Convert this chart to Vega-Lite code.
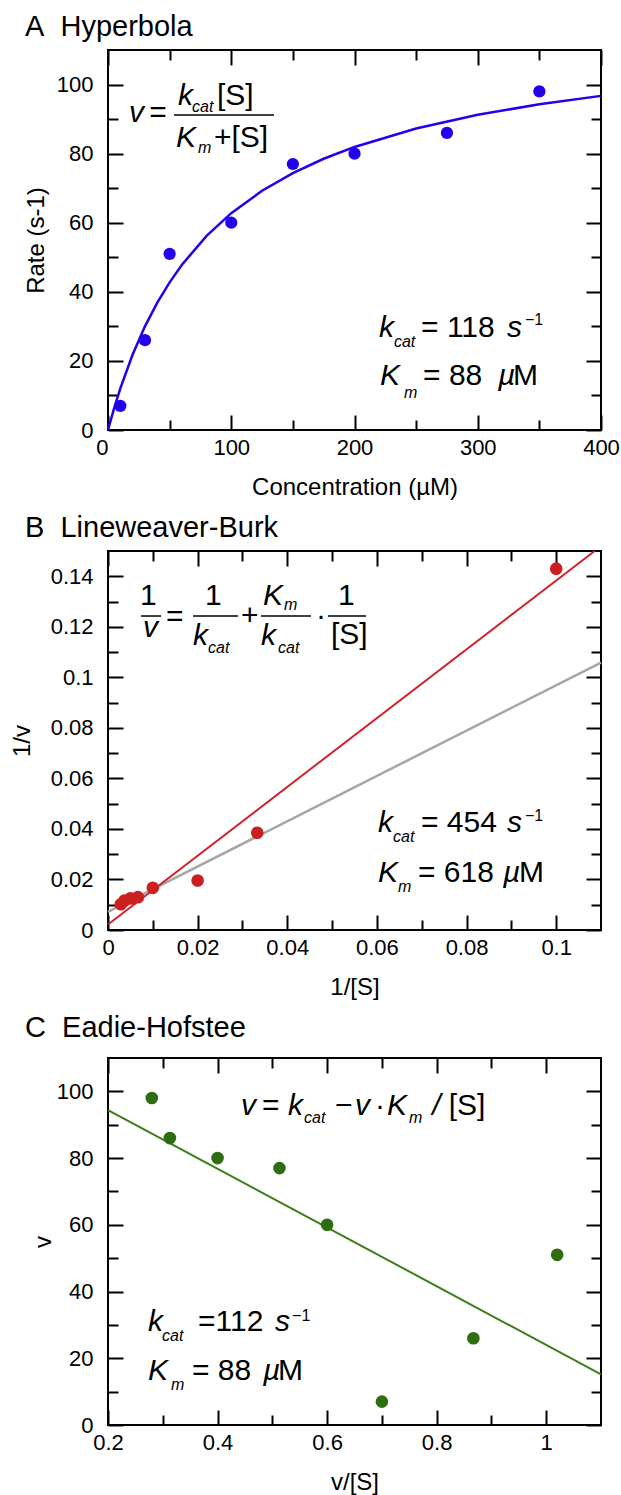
{
  "$schema": "https://vega.github.io/schema/vega-lite/v6.json",
  "padding": {"left": 9, "top": 12, "right": 5, "bottom": 0},
  "background": "white",
  "spacing": 13,
  "datasets": {
    "hyper_pts": [{"S":10,"v":7},{"S":30,"v":26},{"S":50,"v":51},{"S":100,"v":60},{"S":150,"v":77},{"S":200,"v":80},{"S":275,"v":86},{"S":350,"v":98}],
    "hyper_fit": [{"S":0,"v":0},{"S":5,"v":6.34},{"S":10,"v":12.04},{"S":20,"v":21.85},{"S":30,"v":30.0},{"S":40,"v":36.88},{"S":50,"v":42.75},{"S":60,"v":47.84},{"S":80,"v":56.19},{"S":100,"v":62.77},{"S":125,"v":69.25},{"S":150,"v":74.37},{"S":175,"v":78.52},{"S":200,"v":81.94},{"S":250,"v":87.28},{"S":300,"v":91.24},{"S":350,"v":94.29},{"S":400,"v":96.72}],
    "lb_pts": [{"invS":0.1,"invV":0.143},{"invS":0.0333,"invV":0.0385},{"invS":0.02,"invV":0.0196},{"invS":0.01,"invV":0.0167},{"invS":0.00667,"invV":0.013},{"invS":0.005,"invV":0.0125},{"invS":0.00364,"invV":0.0116},{"invS":0.00286,"invV":0.0102}],
    "lb_fit": [{"invS":0,"invV":0.0022},{"invS":0.1086,"invV":0.15}],
    "lb_ref": [{"invS":0,"invV":0.0072},{"invS":0.11,"invV":0.1058}],
    "eh_pts": [{"vS":0.28,"v":98},{"vS":0.313,"v":86},{"vS":0.4,"v":80},{"vS":0.513,"v":77},{"vS":0.6,"v":60},{"vS":0.7,"v":7},{"vS":0.867,"v":26},{"vS":1.02,"v":51}],
    "eh_fit": [{"vS":0.2,"v":94.4},{"vS":1.1,"v":15.2}]
  },
  "vconcat": [
    {
      "width": 493, "height": 380,
      "title": {"text": "A\u00a0\u00a0Hyperbola", "anchor": "start", "frame": "group", "dx": -83, "offset": -16, "baseline": "alphabetic", "fontSize": 29, "font": "Liberation Sans", "fontWeight": "normal", "color": "black"},
      "resolve": {"axis": {"x": "independent", "y": "independent"}},
      "layer": [
        {"data": {"name": "hyper_fit"}, "mark": {"type": "line", "color": "#2200ee", "strokeWidth": 2.5},
         "encoding": {
           "x": {"field": "S", "type": "quantitative", "scale": {"domain": [0, 400], "nice": false},
                 "axis": {"orient": "top", "labels": false, "title": null, "values": [0,50,100,150,200,250,300,350,400],
                          "tickDash": {"condition": {"test": "datum.value % 100 !== 0", "value": [10, 40]}, "value": []}}},
           "y": {"field": "v", "type": "quantitative", "scale": {"domain": [0, 110], "nice": false},
                 "axis": {"orient": "right", "labels": false, "title": null, "values": [0,10,20,30,40,50,60,70,80,90,100],
                          "tickDash": {"condition": {"test": "datum.value % 20 !== 0", "value": [10, 40]}, "value": []}}}
         }},
        {"data": {"name": "hyper_pts"}, "mark": {"type": "circle", "color": "#2200ee", "size": 150, "opacity": 1},
         "encoding": {
           "x": {"field": "S", "type": "quantitative",
                 "axis": {"orient": "bottom", "title": "Concentration (µM)", "values": [0,50,100,150,200,250,300,350,400],
                          "labelExpr": "datum.value % 100 === 0 ? toString(datum.value) : ''",
                          "labelAlign": {"condition": {"test": "datum.value === 0", "value": "right"}, "value": "center"},
                          "tickDash": {"condition": {"test": "datum.value % 100 !== 0", "value": [10, 40]}, "value": []}}},
           "y": {"field": "v", "type": "quantitative",
                 "axis": {"orient": "left", "title": "Rate (s-1)", "titlePadding": 8, "values": [0,10,20,30,40,50,60,70,80,90,100],
                          "labelExpr": "datum.value % 20 === 0 ? toString(datum.value) : ''",
                          "tickDash": {"condition": {"test": "datum.value % 20 !== 0", "value": [10, 40]}, "value": []}}}
         }},
        {"data": {"values": [{}]}, "mark": {"type": "text", "text": "v", "fontSize": 30, "fontStyle": "italic", "font": "Liberation Sans", "align": "left", "baseline": "alphabetic", "color": "black"}, "encoding": {"x": {"datum": 17.0, "type": "quantitative", "axis": null}, "y": {"datum": 89.2, "type": "quantitative", "axis": null}}},
        {"data": {"values": [{}]}, "mark": {"type": "text", "text": "=", "fontSize": 30, "fontStyle": "normal", "font": "Liberation Sans", "align": "left", "baseline": "alphabetic", "color": "black"}, "encoding": {"x": {"datum": 33.5, "type": "quantitative", "axis": null}, "y": {"datum": 89.2, "type": "quantitative", "axis": null}}},
        {"data": {"values": [{}]}, "mark": {"type": "rule", "color": "black", "strokeWidth": 1.5}, "encoding": {"x": {"datum": 53.5, "type": "quantitative", "axis": null}, "x2": {"datum": 134.7}, "y": {"datum": 91.2, "type": "quantitative", "axis": null}}},
        {"data": {"values": [{}]}, "mark": {"type": "text", "text": "k", "fontSize": 30, "fontStyle": "italic", "font": "Liberation Sans", "align": "left", "baseline": "alphabetic", "color": "black"}, "encoding": {"x": {"datum": 56.8, "type": "quantitative", "axis": null}, "y": {"datum": 94.1, "type": "quantitative", "axis": null}}},
        {"data": {"values": [{}]}, "mark": {"type": "text", "text": "cat", "fontSize": 16, "fontStyle": "italic", "font": "Liberation Sans", "align": "left", "baseline": "alphabetic", "color": "black"}, "encoding": {"x": {"datum": 68.2, "type": "quantitative", "axis": null}, "y": {"datum": 92.05, "type": "quantitative", "axis": null}}},
        {"data": {"values": [{}]}, "mark": {"type": "text", "text": "[S]", "fontSize": 30, "fontStyle": "normal", "font": "Liberation Sans", "align": "left", "baseline": "alphabetic", "color": "black"}, "encoding": {"x": {"datum": 88.4, "type": "quantitative", "axis": null}, "y": {"datum": 94.1, "type": "quantitative", "axis": null}}},
        {"data": {"values": [{}]}, "mark": {"type": "text", "text": "K", "fontSize": 30, "fontStyle": "italic", "font": "Liberation Sans", "align": "left", "baseline": "alphabetic", "color": "black"}, "encoding": {"x": {"datum": 55.2, "type": "quantitative", "axis": null}, "y": {"datum": 81.9, "type": "quantitative", "axis": null}}},
        {"data": {"values": [{}]}, "mark": {"type": "text", "text": "m", "fontSize": 16, "fontStyle": "italic", "font": "Liberation Sans", "align": "left", "baseline": "alphabetic", "color": "black"}, "encoding": {"x": {"datum": 73.0, "type": "quantitative", "axis": null}, "y": {"datum": 80.2, "type": "quantitative", "axis": null}}},
        {"data": {"values": [{}]}, "mark": {"type": "text", "text": "+[S]", "fontSize": 30, "fontStyle": "normal", "font": "Liberation Sans", "align": "left", "baseline": "alphabetic", "color": "black"}, "encoding": {"x": {"datum": 86.0, "type": "quantitative", "axis": null}, "y": {"datum": 81.9, "type": "quantitative", "axis": null}}},
        {"data": {"values": [{}]}, "mark": {"type": "text", "text": "k", "fontSize": 30, "fontStyle": "italic", "font": "Liberation Sans", "align": "left", "baseline": "alphabetic", "color": "black"}, "encoding": {"x": {"datum": 219.9, "type": "quantitative", "axis": null}, "y": {"datum": 26.9, "type": "quantitative", "axis": null}}},
        {"data": {"values": [{}]}, "mark": {"type": "text", "text": "cat", "fontSize": 16, "fontStyle": "italic", "font": "Liberation Sans", "align": "left", "baseline": "alphabetic", "color": "black"}, "encoding": {"x": {"datum": 232.0, "type": "quantitative", "axis": null}, "y": {"datum": 24.0, "type": "quantitative", "axis": null}}},
        {"data": {"values": [{}]}, "mark": {"type": "text", "text": "= 118", "fontSize": 30, "fontStyle": "normal", "font": "Liberation Sans", "align": "left", "baseline": "alphabetic", "color": "black"}, "encoding": {"x": {"datum": 254.0, "type": "quantitative", "axis": null}, "y": {"datum": 26.9, "type": "quantitative", "axis": null}}},
        {"data": {"values": [{}]}, "mark": {"type": "text", "text": "s", "fontSize": 30, "fontStyle": "italic", "font": "Liberation Sans", "align": "left", "baseline": "alphabetic", "color": "black"}, "encoding": {"x": {"datum": 323.8, "type": "quantitative", "axis": null}, "y": {"datum": 26.9, "type": "quantitative", "axis": null}}},
        {"data": {"values": [{}]}, "mark": {"type": "text", "text": "−1", "fontSize": 16, "fontStyle": "normal", "font": "Liberation Sans", "align": "left", "baseline": "alphabetic", "color": "black"}, "encoding": {"x": {"datum": 338.3, "type": "quantitative", "axis": null}, "y": {"datum": 30.4, "type": "quantitative", "axis": null}}},
        {"data": {"values": [{}]}, "mark": {"type": "text", "text": "K", "fontSize": 30, "fontStyle": "italic", "font": "Liberation Sans", "align": "left", "baseline": "alphabetic", "color": "black"}, "encoding": {"x": {"datum": 220.7, "type": "quantitative", "axis": null}, "y": {"datum": 13.0, "type": "quantitative", "axis": null}}},
        {"data": {"values": [{}]}, "mark": {"type": "text", "text": "m", "fontSize": 16, "fontStyle": "italic", "font": "Liberation Sans", "align": "left", "baseline": "alphabetic", "color": "black"}, "encoding": {"x": {"datum": 240.2, "type": "quantitative", "axis": null}, "y": {"datum": 9.26, "type": "quantitative", "axis": null}}},
        {"data": {"values": [{}]}, "mark": {"type": "text", "text": "= 88", "fontSize": 30, "fontStyle": "normal", "font": "Liberation Sans", "align": "left", "baseline": "alphabetic", "color": "black"}, "encoding": {"x": {"datum": 255.6, "type": "quantitative", "axis": null}, "y": {"datum": 13.0, "type": "quantitative", "axis": null}}},
        {"data": {"values": [{}]}, "mark": {"type": "text", "text": "µ", "fontSize": 30, "fontStyle": "italic", "font": "Liberation Sans", "align": "left", "baseline": "alphabetic", "color": "black"}, "encoding": {"x": {"datum": 316.4, "type": "quantitative", "axis": null}, "y": {"datum": 13.0, "type": "quantitative", "axis": null}}},
        {"data": {"values": [{}]}, "mark": {"type": "text", "text": "M", "fontSize": 30, "fontStyle": "normal", "font": "Liberation Sans", "align": "left", "baseline": "alphabetic", "color": "black"}, "encoding": {"x": {"datum": 328.6, "type": "quantitative", "axis": null}, "y": {"datum": 13.0, "type": "quantitative", "axis": null}}}
      ]
    },
    {
      "width": 493, "height": 379,
      "title": {"text": "B\u00a0\u00a0Lineweaver-Burk", "anchor": "start", "frame": "group", "dx": -83, "offset": -19, "baseline": "alphabetic", "fontSize": 29, "font": "Liberation Sans", "fontWeight": "normal", "color": "black"},
      "resolve": {"axis": {"x": "independent", "y": "independent"}},
      "layer": [
        {"data": {"name": "lb_ref"}, "mark": {"type": "line", "color": "#a6a6a6", "strokeWidth": 2.5},
         "encoding": {
           "x": {"field": "invS", "type": "quantitative", "scale": {"domain": [0, 0.11], "nice": false},
                 "axis": {"orient": "top", "labels": false, "title": null, "values": [0,0.01,0.02,0.03,0.04,0.05,0.06,0.07,0.08,0.09,0.1],
                          "tickDash": {"condition": {"test": "round(datum.value*100) % 2 === 1", "value": [10, 40]}, "value": []}}},
           "y": {"field": "invV", "type": "quantitative", "scale": {"domain": [0, 0.15], "nice": false},
                 "axis": {"orient": "right", "labels": false, "title": null, "values": [0,0.01,0.02,0.03,0.04,0.05,0.06,0.07,0.08,0.09,0.1,0.11,0.12,0.13,0.14],
                          "tickDash": {"condition": {"test": "round(datum.value*100) % 2 === 1", "value": [10, 40]}, "value": []}}}
         }},
        {"data": {"name": "lb_fit"}, "mark": {"type": "line", "color": "#d0222b", "strokeWidth": 2},
         "encoding": {
           "x": {"field": "invS", "type": "quantitative",
                 "axis": {"orient": "bottom", "title": "1/[S]", "values": [0,0.01,0.02,0.03,0.04,0.05,0.06,0.07,0.08,0.09,0.1],
                          "labelExpr": "round(datum.value*100) % 2 === 0 ? toString(datum.value) : ''",
                          "tickDash": {"condition": {"test": "round(datum.value*100) % 2 === 1", "value": [10, 40]}, "value": []}}},
           "y": {"field": "invV", "type": "quantitative",
                 "axis": {"orient": "left", "title": "1/v", "titlePadding": 16, "values": [0,0.01,0.02,0.03,0.04,0.05,0.06,0.07,0.08,0.09,0.1,0.11,0.12,0.13,0.14],
                          "labelExpr": "round(datum.value*100) % 2 === 0 ? toString(datum.value) : ''",
                          "tickDash": {"condition": {"test": "round(datum.value*100) % 2 === 1", "value": [10, 40]}, "value": []}}}
         }},
        {"data": {"name": "lb_pts"}, "mark": {"type": "circle", "color": "#cc2020", "size": 160, "opacity": 1},
         "encoding": {"x": {"field": "invS", "type": "quantitative", "axis": null}, "y": {"field": "invV", "type": "quantitative", "axis": null}}},
        {"data": {"values": [{}]}, "mark": {"type": "text", "text": "1", "fontSize": 30, "fontStyle": "normal", "font": "Liberation Sans", "align": "left", "baseline": "alphabetic", "color": "black"}, "encoding": {"x": {"datum": 0.00714, "type": "quantitative", "axis": null}, "y": {"datum": 0.12863, "type": "quantitative", "axis": null}}},
        {"data": {"values": [{}]}, "mark": {"type": "rule", "color": "black", "strokeWidth": 1.5}, "encoding": {"x": {"datum": 0.00736, "type": "quantitative", "axis": null}, "x2": {"datum": 0.01183}, "y": {"datum": 0.12427, "type": "quantitative", "axis": null}}},
        {"data": {"values": [{}]}, "mark": {"type": "text", "text": "v", "fontSize": 30, "fontStyle": "italic", "font": "Liberation Sans", "align": "left", "baseline": "alphabetic", "color": "black"}, "encoding": {"x": {"datum": 0.00781, "type": "quantitative", "axis": null}, "y": {"datum": 0.11596, "type": "quantitative", "axis": null}}},
        {"data": {"values": [{}]}, "mark": {"type": "text", "text": "=", "fontSize": 30, "fontStyle": "normal", "font": "Liberation Sans", "align": "left", "baseline": "alphabetic", "color": "black"}, "encoding": {"x": {"datum": 0.01294, "type": "quantitative", "axis": null}, "y": {"datum": 0.12051, "type": "quantitative", "axis": null}}},
        {"data": {"values": [{}]}, "mark": {"type": "rule", "color": "black", "strokeWidth": 1.5}, "encoding": {"x": {"datum": 0.01897, "type": "quantitative", "axis": null}, "x2": {"datum": 0.02901}, "y": {"datum": 0.12427, "type": "quantitative", "axis": null}}},
        {"data": {"values": [{}]}, "mark": {"type": "text", "text": "1", "fontSize": 30, "fontStyle": "normal", "font": "Liberation Sans", "align": "left", "baseline": "alphabetic", "color": "black"}, "encoding": {"x": {"datum": 0.02164, "type": "quantitative", "axis": null}, "y": {"datum": 0.12863, "type": "quantitative", "axis": null}}},
        {"data": {"values": [{}]}, "mark": {"type": "text", "text": "k", "fontSize": 30, "fontStyle": "italic", "font": "Liberation Sans", "align": "left", "baseline": "alphabetic", "color": "black"}, "encoding": {"x": {"datum": 0.01897, "type": "quantitative", "axis": null}, "y": {"datum": 0.11279, "type": "quantitative", "axis": null}}},
        {"data": {"values": [{}]}, "mark": {"type": "text", "text": "cat", "fontSize": 16, "fontStyle": "italic", "font": "Liberation Sans", "align": "left", "baseline": "alphabetic", "color": "black"}, "encoding": {"x": {"datum": 0.02231, "type": "quantitative", "axis": null}, "y": {"datum": 0.10963, "type": "quantitative", "axis": null}}},
        {"data": {"values": [{}]}, "mark": {"type": "text", "text": "+", "fontSize": 30, "fontStyle": "normal", "font": "Liberation Sans", "align": "left", "baseline": "alphabetic", "color": "black"}, "encoding": {"x": {"datum": 0.02968, "type": "quantitative", "axis": null}, "y": {"datum": 0.12071, "type": "quantitative", "axis": null}}},
        {"data": {"values": [{}]}, "mark": {"type": "rule", "color": "black", "strokeWidth": 1.5}, "encoding": {"x": {"datum": 0.03414, "type": "quantitative", "axis": null}, "x2": {"datum": 0.04529}, "y": {"datum": 0.12427, "type": "quantitative", "axis": null}}},
        {"data": {"values": [{}]}, "mark": {"type": "text", "text": "K", "fontSize": 30, "fontStyle": "italic", "font": "Liberation Sans", "align": "left", "baseline": "alphabetic", "color": "black"}, "encoding": {"x": {"datum": 0.03458, "type": "quantitative", "axis": null}, "y": {"datum": 0.12863, "type": "quantitative", "axis": null}}},
        {"data": {"values": [{}]}, "mark": {"type": "text", "text": "m", "fontSize": 16, "fontStyle": "italic", "font": "Liberation Sans", "align": "left", "baseline": "alphabetic", "color": "black"}, "encoding": {"x": {"datum": 0.03927, "type": "quantitative", "axis": null}, "y": {"datum": 0.12665, "type": "quantitative", "axis": null}}},
        {"data": {"values": [{}]}, "mark": {"type": "text", "text": "k", "fontSize": 30, "fontStyle": "italic", "font": "Liberation Sans", "align": "left", "baseline": "alphabetic", "color": "black"}, "encoding": {"x": {"datum": 0.03414, "type": "quantitative", "axis": null}, "y": {"datum": 0.11279, "type": "quantitative", "axis": null}}},
        {"data": {"values": [{}]}, "mark": {"type": "text", "text": "cat", "fontSize": 16, "fontStyle": "italic", "font": "Liberation Sans", "align": "left", "baseline": "alphabetic", "color": "black"}, "encoding": {"x": {"datum": 0.03793, "type": "quantitative", "axis": null}, "y": {"datum": 0.10963, "type": "quantitative", "axis": null}}},
        {"data": {"values": [{}]}, "mark": {"type": "text", "text": "·", "fontSize": 30, "fontStyle": "normal", "font": "Liberation Sans", "align": "left", "baseline": "alphabetic", "color": "black"}, "encoding": {"x": {"datum": 0.04641, "type": "quantitative", "axis": null}, "y": {"datum": 0.12071, "type": "quantitative", "axis": null}}},
        {"data": {"values": [{}]}, "mark": {"type": "rule", "color": "black", "strokeWidth": 1.5}, "encoding": {"x": {"datum": 0.04909, "type": "quantitative", "axis": null}, "x2": {"datum": 0.05757}, "y": {"datum": 0.12427, "type": "quantitative", "axis": null}}},
        {"data": {"values": [{}]}, "mark": {"type": "text", "text": "1", "fontSize": 30, "fontStyle": "normal", "font": "Liberation Sans", "align": "left", "baseline": "alphabetic", "color": "black"}, "encoding": {"x": {"datum": 0.05132, "type": "quantitative", "axis": null}, "y": {"datum": 0.12863, "type": "quantitative", "axis": null}}},
        {"data": {"values": [{}]}, "mark": {"type": "text", "text": "[S]", "fontSize": 30, "fontStyle": "normal", "font": "Liberation Sans", "align": "left", "baseline": "alphabetic", "color": "black"}, "encoding": {"x": {"datum": 0.04976, "type": "quantitative", "axis": null}, "y": {"datum": 0.11318, "type": "quantitative", "axis": null}}},
        {"data": {"values": [{}]}, "mark": {"type": "text", "text": "k", "fontSize": 30, "fontStyle": "italic", "font": "Liberation Sans", "align": "left", "baseline": "alphabetic", "color": "black"}, "encoding": {"x": {"datum": 0.06024, "type": "quantitative", "axis": null}, "y": {"datum": 0.03879, "type": "quantitative", "axis": null}}},
        {"data": {"values": [{}]}, "mark": {"type": "text", "text": "cat", "fontSize": 16, "fontStyle": "italic", "font": "Liberation Sans", "align": "left", "baseline": "alphabetic", "color": "black"}, "encoding": {"x": {"datum": 0.06359, "type": "quantitative", "axis": null}, "y": {"datum": 0.03483, "type": "quantitative", "axis": null}}},
        {"data": {"values": [{}]}, "mark": {"type": "text", "text": "= 454", "fontSize": 30, "fontStyle": "normal", "font": "Liberation Sans", "align": "left", "baseline": "alphabetic", "color": "black"}, "encoding": {"x": {"datum": 0.06984, "type": "quantitative", "axis": null}, "y": {"datum": 0.03879, "type": "quantitative", "axis": null}}},
        {"data": {"values": [{}]}, "mark": {"type": "text", "text": "s", "fontSize": 30, "fontStyle": "italic", "font": "Liberation Sans", "align": "left", "baseline": "alphabetic", "color": "black"}, "encoding": {"x": {"datum": 0.08903, "type": "quantitative", "axis": null}, "y": {"datum": 0.03879, "type": "quantitative", "axis": null}}},
        {"data": {"values": [{}]}, "mark": {"type": "text", "text": "−1", "fontSize": 16, "fontStyle": "normal", "font": "Liberation Sans", "align": "left", "baseline": "alphabetic", "color": "black"}, "encoding": {"x": {"datum": 0.09304, "type": "quantitative", "axis": null}, "y": {"datum": 0.0433, "type": "quantitative", "axis": null}}},
        {"data": {"values": [{}]}, "mark": {"type": "text", "text": "K", "fontSize": 30, "fontStyle": "italic", "font": "Liberation Sans", "align": "left", "baseline": "alphabetic", "color": "black"}, "encoding": {"x": {"datum": 0.06024, "type": "quantitative", "axis": null}, "y": {"datum": 0.019, "type": "quantitative", "axis": null}}},
        {"data": {"values": [{}]}, "mark": {"type": "text", "text": "m", "fontSize": 16, "fontStyle": "italic", "font": "Liberation Sans", "align": "left", "baseline": "alphabetic", "color": "black"}, "encoding": {"x": {"datum": 0.06471, "type": "quantitative", "axis": null}, "y": {"datum": 0.01504, "type": "quantitative", "axis": null}}},
        {"data": {"values": [{}]}, "mark": {"type": "text", "text": "= 618", "fontSize": 30, "fontStyle": "normal", "font": "Liberation Sans", "align": "left", "baseline": "alphabetic", "color": "black"}, "encoding": {"x": {"datum": 0.06917, "type": "quantitative", "axis": null}, "y": {"datum": 0.019, "type": "quantitative", "axis": null}}},
        {"data": {"values": [{}]}, "mark": {"type": "text", "text": "µ", "fontSize": 30, "fontStyle": "italic", "font": "Liberation Sans", "align": "left", "baseline": "alphabetic", "color": "black"}, "encoding": {"x": {"datum": 0.08813, "type": "quantitative", "axis": null}, "y": {"datum": 0.019, "type": "quantitative", "axis": null}}},
        {"data": {"values": [{}]}, "mark": {"type": "text", "text": "M", "fontSize": 30, "fontStyle": "normal", "font": "Liberation Sans", "align": "left", "baseline": "alphabetic", "color": "black"}, "encoding": {"x": {"datum": 0.0917, "type": "quantitative", "axis": null}, "y": {"datum": 0.019, "type": "quantitative", "axis": null}}}
      ]
    },
    {
      "width": 493, "height": 367,
      "title": {"text": "C\u00a0\u00a0Eadie-Hofstee", "anchor": "start", "frame": "group", "dx": -83, "offset": -9, "baseline": "alphabetic", "fontSize": 29, "font": "Liberation Sans", "fontWeight": "normal", "color": "black"},
      "resolve": {"axis": {"x": "independent", "y": "independent"}},
      "layer": [
        {"data": {"name": "eh_fit"}, "mark": {"type": "line", "color": "#3d7d1a", "strokeWidth": 2},
         "encoding": {
           "x": {"field": "vS", "type": "quantitative", "scale": {"domain": [0.2, 1.1], "nice": false, "zero": false},
                 "axis": {"orient": "top", "labels": false, "title": null, "values": [0.2,0.3,0.4,0.5,0.6,0.7,0.8,0.9,1.0],
                          "tickDash": {"condition": {"test": "round(datum.value*10) % 2 === 1", "value": [10, 40]}, "value": []}}},
           "y": {"field": "v", "type": "quantitative", "scale": {"domain": [0, 110], "nice": false},
                 "axis": {"orient": "right", "labels": false, "title": null, "values": [0,10,20,30,40,50,60,70,80,90,100],
                          "tickDash": {"condition": {"test": "datum.value % 20 !== 0", "value": [10, 40]}, "value": []}}}
         }},
        {"data": {"name": "eh_pts"}, "mark": {"type": "circle", "color": "#2f6d12", "size": 160, "opacity": 1},
         "encoding": {
           "x": {"field": "vS", "type": "quantitative",
                 "axis": {"orient": "bottom", "title": "v/[S]", "values": [0.2,0.3,0.4,0.5,0.6,0.7,0.8,0.9,1.0],
                          "labelExpr": "round(datum.value*10) % 2 === 0 ? toString(datum.value) : ''",
                          "tickDash": {"condition": {"test": "round(datum.value*10) % 2 === 1", "value": [10, 40]}, "value": []}}},
           "y": {"field": "v", "type": "quantitative",
                 "axis": {"orient": "left", "title": "v", "titlePadding": 1, "values": [0,10,20,30,40,50,60,70,80,90,100],
                          "labelExpr": "datum.value % 20 === 0 ? toString(datum.value) : ''",
                          "tickDash": {"condition": {"test": "datum.value % 20 !== 0", "value": [10, 40]}, "value": []}}}
         }},
        {"data": {"values": [{}]}, "mark": {"type": "text", "text": "v", "fontSize": 30, "fontStyle": "italic", "font": "Liberation Sans", "align": "left", "baseline": "alphabetic", "color": "black"}, "encoding": {"x": {"datum": 0.4428, "type": "quantitative", "axis": null}, "y": {"datum": 92.91, "type": "quantitative", "axis": null}}},
        {"data": {"values": [{}]}, "mark": {"type": "text", "text": "=", "fontSize": 30, "fontStyle": "normal", "font": "Liberation Sans", "align": "left", "baseline": "alphabetic", "color": "black"}, "encoding": {"x": {"datum": 0.4811, "type": "quantitative", "axis": null}, "y": {"datum": 92.91, "type": "quantitative", "axis": null}}},
        {"data": {"values": [{}]}, "mark": {"type": "text", "text": "k", "fontSize": 30, "fontStyle": "italic", "font": "Liberation Sans", "align": "left", "baseline": "alphabetic", "color": "black"}, "encoding": {"x": {"datum": 0.5286, "type": "quantitative", "axis": null}, "y": {"datum": 92.91, "type": "quantitative", "axis": null}}},
        {"data": {"values": [{}]}, "mark": {"type": "text", "text": "cat", "fontSize": 16, "fontStyle": "italic", "font": "Liberation Sans", "align": "left", "baseline": "alphabetic", "color": "black"}, "encoding": {"x": {"datum": 0.5578, "type": "quantitative", "axis": null}, "y": {"datum": 90.52, "type": "quantitative", "axis": null}}},
        {"data": {"values": [{}]}, "mark": {"type": "text", "text": "−", "fontSize": 30, "fontStyle": "normal", "font": "Liberation Sans", "align": "left", "baseline": "alphabetic", "color": "black"}, "encoding": {"x": {"datum": 0.6144, "type": "quantitative", "axis": null}, "y": {"datum": 92.91, "type": "quantitative", "axis": null}}},
        {"data": {"values": [{}]}, "mark": {"type": "text", "text": "v", "fontSize": 30, "fontStyle": "italic", "font": "Liberation Sans", "align": "left", "baseline": "alphabetic", "color": "black"}, "encoding": {"x": {"datum": 0.6509, "type": "quantitative", "axis": null}, "y": {"datum": 92.91, "type": "quantitative", "axis": null}}},
        {"data": {"values": [{}]}, "mark": {"type": "text", "text": "·", "fontSize": 30, "fontStyle": "normal", "font": "Liberation Sans", "align": "left", "baseline": "alphabetic", "color": "black"}, "encoding": {"x": {"datum": 0.6874, "type": "quantitative", "axis": null}, "y": {"datum": 92.91, "type": "quantitative", "axis": null}}},
        {"data": {"values": [{}]}, "mark": {"type": "text", "text": "K", "fontSize": 30, "fontStyle": "italic", "font": "Liberation Sans", "align": "left", "baseline": "alphabetic", "color": "black"}, "encoding": {"x": {"datum": 0.7093, "type": "quantitative", "axis": null}, "y": {"datum": 92.91, "type": "quantitative", "axis": null}}},
        {"data": {"values": [{}]}, "mark": {"type": "text", "text": "m", "fontSize": 16, "fontStyle": "italic", "font": "Liberation Sans", "align": "left", "baseline": "alphabetic", "color": "black"}, "encoding": {"x": {"datum": 0.7495, "type": "quantitative", "axis": null}, "y": {"datum": 90.52, "type": "quantitative", "axis": null}}},
        {"data": {"values": [{}]}, "mark": {"type": "text", "text": "/", "fontSize": 30, "fontStyle": "italic", "font": "Liberation Sans", "align": "left", "baseline": "alphabetic", "color": "black"}, "encoding": {"x": {"datum": 0.792, "type": "quantitative", "axis": null}, "y": {"datum": 92.91, "type": "quantitative", "axis": null}}},
        {"data": {"values": [{}]}, "mark": {"type": "text", "text": "[S]", "fontSize": 30, "fontStyle": "normal", "font": "Liberation Sans", "align": "left", "baseline": "alphabetic", "color": "black"}, "encoding": {"x": {"datum": 0.822, "type": "quantitative", "axis": null}, "y": {"datum": 92.91, "type": "quantitative", "axis": null}}},
        {"data": {"values": [{}]}, "mark": {"type": "text", "text": "k", "fontSize": 30, "fontStyle": "italic", "font": "Liberation Sans", "align": "left", "baseline": "alphabetic", "color": "black"}, "encoding": {"x": {"datum": 0.273, "type": "quantitative", "axis": null}, "y": {"datum": 28.17, "type": "quantitative", "axis": null}}},
        {"data": {"values": [{}]}, "mark": {"type": "text", "text": "cat", "fontSize": 16, "fontStyle": "italic", "font": "Liberation Sans", "align": "left", "baseline": "alphabetic", "color": "black"}, "encoding": {"x": {"datum": 0.2986, "type": "quantitative", "axis": null}, "y": {"datum": 25.18, "type": "quantitative", "axis": null}}},
        {"data": {"values": [{}]}, "mark": {"type": "text", "text": "=112", "fontSize": 30, "fontStyle": "normal", "font": "Liberation Sans", "align": "left", "baseline": "alphabetic", "color": "black"}, "encoding": {"x": {"datum": 0.3643, "type": "quantitative", "axis": null}, "y": {"datum": 28.17, "type": "quantitative", "axis": null}}},
        {"data": {"values": [{}]}, "mark": {"type": "text", "text": "s", "fontSize": 30, "fontStyle": "italic", "font": "Liberation Sans", "align": "left", "baseline": "alphabetic", "color": "black"}, "encoding": {"x": {"datum": 0.505, "type": "quantitative", "axis": null}, "y": {"datum": 28.17, "type": "quantitative", "axis": null}}},
        {"data": {"values": [{}]}, "mark": {"type": "text", "text": "−1", "fontSize": 16, "fontStyle": "normal", "font": "Liberation Sans", "align": "left", "baseline": "alphabetic", "color": "black"}, "encoding": {"x": {"datum": 0.536, "type": "quantitative", "axis": null}, "y": {"datum": 31.17, "type": "quantitative", "axis": null}}},
        {"data": {"values": [{}]}, "mark": {"type": "text", "text": "K", "fontSize": 30, "fontStyle": "italic", "font": "Liberation Sans", "align": "left", "baseline": "alphabetic", "color": "black"}, "encoding": {"x": {"datum": 0.273, "type": "quantitative", "axis": null}, "y": {"datum": 13.49, "type": "quantitative", "axis": null}}},
        {"data": {"values": [{}]}, "mark": {"type": "text", "text": "m", "fontSize": 16, "fontStyle": "italic", "font": "Liberation Sans", "align": "left", "baseline": "alphabetic", "color": "black"}, "encoding": {"x": {"datum": 0.315, "type": "quantitative", "axis": null}, "y": {"datum": 10.49, "type": "quantitative", "axis": null}}},
        {"data": {"values": [{}]}, "mark": {"type": "text", "text": "= 88", "fontSize": 30, "fontStyle": "normal", "font": "Liberation Sans", "align": "left", "baseline": "alphabetic", "color": "black"}, "encoding": {"x": {"datum": 0.3533, "type": "quantitative", "axis": null}, "y": {"datum": 13.49, "type": "quantitative", "axis": null}}},
        {"data": {"values": [{}]}, "mark": {"type": "text", "text": "µ", "fontSize": 30, "fontStyle": "italic", "font": "Liberation Sans", "align": "left", "baseline": "alphabetic", "color": "black"}, "encoding": {"x": {"datum": 0.4829, "type": "quantitative", "axis": null}, "y": {"datum": 13.49, "type": "quantitative", "axis": null}}},
        {"data": {"values": [{}]}, "mark": {"type": "text", "text": "M", "fontSize": 30, "fontStyle": "normal", "font": "Liberation Sans", "align": "left", "baseline": "alphabetic", "color": "black"}, "encoding": {"x": {"datum": 0.5103, "type": "quantitative", "axis": null}, "y": {"datum": 13.49, "type": "quantitative", "axis": null}}}
      ]
    }
  ],
  "config": {
    "view": {"stroke": "black", "strokeWidth": 2},
    "axis": {"domain": false, "grid": false, "ticks": true, "tickColor": "black", "tickWidth": 2, "tickSize": -15, "minExtent": 0,
             "labelFont": "Liberation Sans", "labelFontSize": 22, "labelColor": "black", "labelFlush": false, "labelOverlap": false,
             "titleFont": "Liberation Sans", "titleFontSize": 24, "titleFontWeight": "normal", "titleColor": "black"},
    "axisX": {"labelPadding": 22, "titlePadding": 17},
    "axisY": {"labelPadding": 30, "titlePadding": 6}
  }
}
